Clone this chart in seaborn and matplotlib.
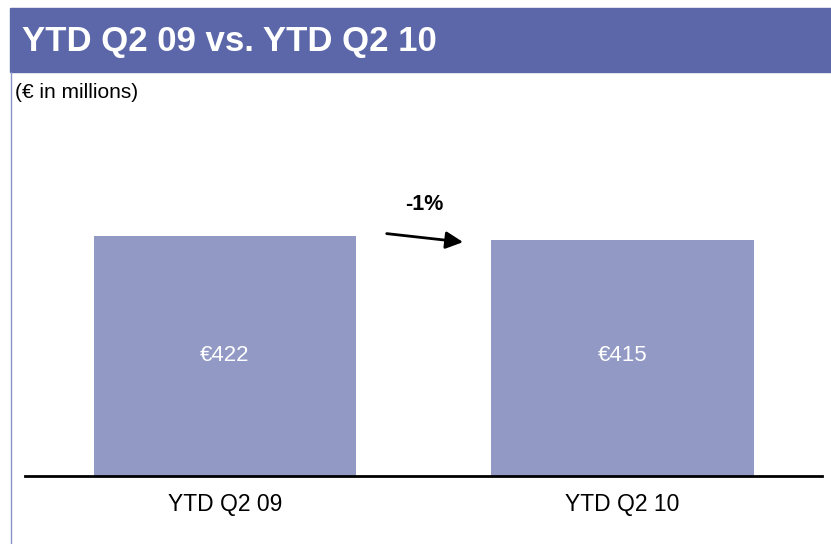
import matplotlib.pyplot as plt
import pandas as pd
import seaborn as sns
from matplotlib.patches import Rectangle
from matplotlib.lines import Line2D

# chart data
categories = ["YTD Q2 09", "YTD Q2 10"]
values = [422, 415]
value_labels = ["€422", "€415"]
change_label = "-1%"
title = "YTD Q2 09 vs. YTD Q2 10"
subtitle = "(€ in millions)"

HEADER_COLOR = "#5B67A8"
BAR_COLOR = "#9199C4"
FONT = ["Liberation Sans", "DejaVu Sans"]


def main() -> None:
    sns.set_theme(style="white")
    plt.rcParams["font.family"] = FONT

    df = pd.DataFrame({"period": categories, "value": values})

    fig = plt.figure(figsize=(8.31, 5.44), dpi=100)
    ax = fig.add_axes([25 / 831, 68 / 544, 797 / 831, 376 / 544])

    sns.barplot(data=df, x="period", y="value", color=BAR_COLOR,
                saturation=1, width=0.66, linewidth=0, ax=ax)
    ax.set_xlim(-0.503, 1.502)
    ax.set_ylim(0, 660)

    # value labels inside the bars, on a common line
    label_y = max(values) * 0.5
    for i, lab in enumerate(value_labels):
        ax.text(i, label_y, lab, ha="center", va="center",
                color="white", fontsize=16)

    # change arrow between bars
    ax.annotate("", xy=(0.606, values[1] - 5), xytext=(0.40, values[0] + 4),
                arrowprops=dict(arrowstyle="-|>", color="black", lw=2,
                                mutation_scale=26))
    ax.text(0.502, values[0] + 55, change_label, ha="center", va="center",
            fontsize=15.5, fontweight="bold", color="black")

    ax.set_xlabel("")
    ax.set_ylabel("")
    ax.set_yticks([])
    ax.tick_params(axis="x", length=0, pad=12, labelsize=16.5, colors="black")
    for side in ["top", "right", "left"]:
        ax.spines[side].set_visible(False)
    ax.spines["bottom"].set_color("black")
    ax.spines["bottom"].set_linewidth(2)

    # header band and left border
    fig.patches.append(Rectangle((10 / 831, (544 - 72) / 544), 1 - 10 / 831, 64 / 544,
                                 transform=fig.transFigure, color=HEADER_COLOR,
                                 zorder=0))
    fig.lines.append(Line2D([10.5 / 831, 10.5 / 831], [0, (544 - 72) / 544],
                            transform=fig.transFigure, color="#8A93C8", lw=1))
    fig.text(22 / 831, (544 - 42) / 544, title, color="white", fontsize=25,
             fontweight="bold", ha="left", va="center")
    fig.text(15 / 831, (544 - 92) / 544, subtitle, color="black", fontsize=15,
             ha="left", va="center")

    fig.savefig("out.png", dpi=100)
    plt.close(fig)


if __name__ == "__main__":
    main()
